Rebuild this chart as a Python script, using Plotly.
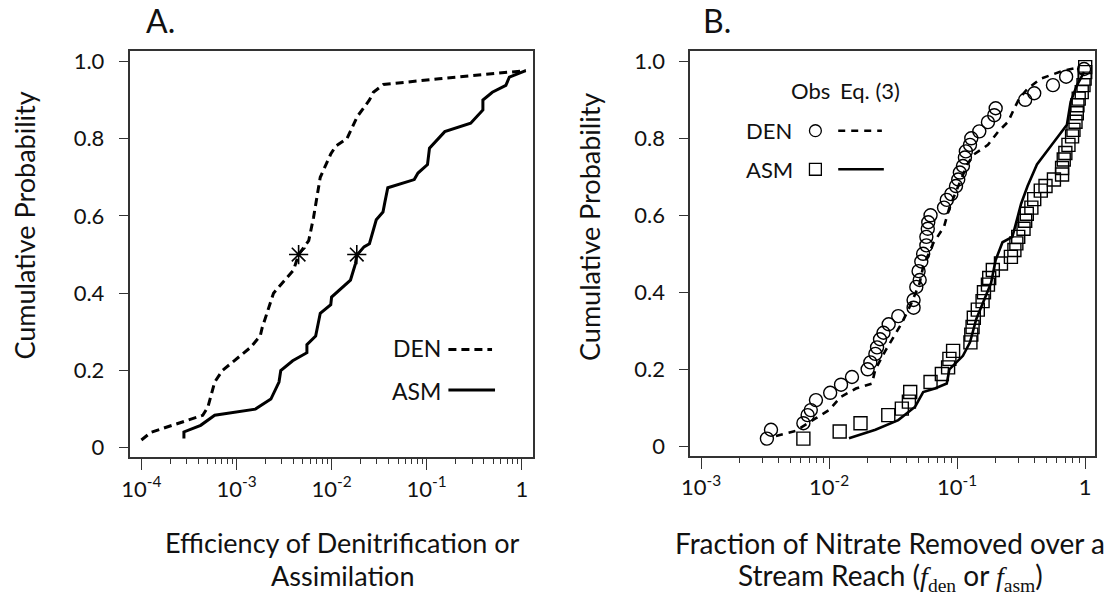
import plotly.graph_objects as go

# ---------------- Panel A data ----------------
a_den_x = [1.0e-4, 1.26e-4, 4.42e-4, 5.0e-4, 5.9e-4, 7.1e-4, 1.41e-3, 1.78e-3, 1.86e-3, 2.45e-3,
           3.98e-3, 4.5e-3, 5.75e-3, 6.46e-3, 7.6e-3, 9.8e-3, 1.1e-2, 1.45e-2, 1.86e-2, 2.5e-2,
           2.75e-2, 3.5e-2, 0.135, 1.1]
a_den_y = [0.02, 0.04, 0.084, 0.105, 0.17, 0.20, 0.26, 0.29, 0.31, 0.40,
           0.46, 0.50, 0.536, 0.596, 0.70, 0.76, 0.78, 0.80, 0.857, 0.90,
           0.92, 0.94, 0.955, 0.976]
a_asm_x = [2.8e-4, 2.8e-4, 4.2e-4, 5.9e-4, 1.58e-3, 2.3e-3, 2.8e-3, 2.92e-3, 3.9e-3, 5.5e-3,
           5.5e-3, 6.8e-3, 7.6e-3, 9.8e-3, 1.0e-2, 1.58e-2, 1.78e-2, 1.84e-2, 2.19e-2, 2.5e-2,
           2.95e-2, 3.47e-2, 3.63e-2, 3.9e-2, 7.4e-2, 8.1e-2, 0.102, 0.107, 0.155, 0.29,
           0.39, 0.39, 0.49, 0.68, 0.74, 1.1]
a_asm_y = [0.024, 0.041, 0.058, 0.084, 0.10, 0.126, 0.17, 0.20, 0.225, 0.246,
           0.267, 0.289, 0.348, 0.37, 0.39, 0.434, 0.476, 0.498, 0.52, 0.528,
           0.59, 0.61, 0.635, 0.673, 0.694, 0.711, 0.733, 0.775, 0.818, 0.84,
           0.874, 0.90, 0.92, 0.938, 0.959, 0.976]
a_median_x = [4.5e-3, 1.84e-2]
a_median_y = [0.5, 0.5]

# ---------------- Panel B data ----------------
b_den_obs_x = [3.27e-3, 3.52e-3, 6.3e-3, 6.8e-3, 7.2e-3, 7.9e-3, 1.02e-2, 1.24e-2, 1.51e-2, 2.0e-2,
               2.1e-2, 2.3e-2, 2.37e-2, 2.5e-2, 2.66e-2, 2.92e-2, 3.47e-2, 4.57e-2, 4.57e-2, 4.8e-2,
               5.1e-2, 5.0e-2, 5.25e-2, 5.43e-2, 5.75e-2, 5.75e-2, 5.9e-2, 5.95e-2, 6.2e-2, 7.9e-2,
               8.3e-2, 9.0e-2, 9.8e-2, 0.102, 0.105, 0.111, 0.115, 0.117, 0.126, 0.129,
               0.149, 0.174, 0.195, 0.20, 0.34, 0.40, 0.56, 0.71, 0.98]
b_den_obs_y = [0.02, 0.043, 0.06, 0.081, 0.094, 0.12, 0.139, 0.16, 0.18, 0.20,
               0.218, 0.24, 0.257, 0.278, 0.295, 0.317, 0.338, 0.36, 0.38, 0.414,
               0.432, 0.455, 0.48, 0.50, 0.522, 0.544, 0.565, 0.582, 0.60, 0.62,
               0.64, 0.655, 0.676, 0.693, 0.711, 0.728, 0.75, 0.766, 0.783, 0.80,
               0.818, 0.842, 0.86, 0.878, 0.90, 0.917, 0.938, 0.96, 0.98]
b_den_eq_x = [3.85e-3, 5.5e-3, 7.9e-3, 1.0e-2, 1.23e-2, 1.62e-2, 2.16e-2, 2.3e-2, 2.75e-2, 3.7e-2,
              4.4e-2, 5.1e-2, 5.43e-2, 6.5e-2, 7.9e-2, 8.7e-2, 0.101, 0.12, 0.135, 0.174,
              0.21, 0.25, 0.28, 0.305, 0.355, 0.45, 0.68, 0.91]
b_den_eq_y = [0.027, 0.04, 0.073, 0.094, 0.128, 0.15, 0.163, 0.20, 0.248, 0.32,
              0.372, 0.424, 0.467, 0.527, 0.57, 0.62, 0.672, 0.732, 0.758, 0.783,
              0.818, 0.843, 0.878, 0.903, 0.929, 0.955, 0.976, 0.985]
b_asm_obs_x = [6.3e-3, 1.21e-2, 1.76e-2, 2.9e-2, 3.7e-2, 4.2e-2, 4.3e-2, 6.2e-2, 7.6e-2, 8.5e-2,
               8.7e-2, 9.3e-2, 0.127, 0.129, 0.132, 0.135, 0.145, 0.158, 0.162, 0.174,
               0.178, 0.19, 0.22, 0.263, 0.28, 0.29, 0.30, 0.33, 0.34, 0.35,
               0.38, 0.40, 0.45, 0.49, 0.57, 0.66, 0.66, 0.68, 0.70, 0.74,
               0.79, 0.81, 0.84, 0.86, 0.87, 0.89, 0.94, 0.97, 0.99, 1.0, 1.0]
b_asm_obs_y = [0.02, 0.0385, 0.06, 0.081, 0.098, 0.116, 0.141, 0.167, 0.188, 0.205,
               0.227, 0.248, 0.27, 0.29, 0.31, 0.334, 0.355, 0.377, 0.40, 0.42,
               0.437, 0.458, 0.475, 0.492, 0.51, 0.527, 0.544, 0.565, 0.586, 0.604,
               0.62, 0.642, 0.664, 0.676, 0.693, 0.706, 0.723, 0.745, 0.762, 0.783,
               0.805, 0.822, 0.843, 0.865, 0.886, 0.903, 0.92, 0.938, 0.955, 0.972, 0.985]
b_asm_eq_x = [1.43e-2, 2.3e-2, 3.47e-2, 4.7e-2, 5.43e-2, 6.7e-2, 8.3e-2, 8.7e-2, 0.111, 0.126,
              0.141, 0.158, 0.184, 0.20, 0.226, 0.27, 0.30, 0.316, 0.355, 0.42,
              0.525, 0.60, 0.72, 0.77, 0.86, 0.98]
b_asm_eq_y = [0.021, 0.043, 0.068, 0.103, 0.141, 0.15, 0.163, 0.20, 0.235, 0.27,
              0.33, 0.372, 0.424, 0.484, 0.53, 0.544, 0.604, 0.63, 0.676, 0.732,
              0.775, 0.80, 0.835, 0.895, 0.937, 0.972]

# ---------------- Axis tick data ----------------
y_tickvals = [0, 0.2, 0.4, 0.6, 0.8, 1.0]
y_ticktext = ["0", "0.2", "0.4", "0.6", "0.8", "1.0"]
a_x_tickvals = [1e-4, 1e-3, 1e-2, 1e-1, 1]
a_x_ticktext = ["10<sup>-4</sup>", "10<sup>-3</sup>", "10<sup>-2</sup>", "10<sup>-1</sup>", "1"]
b_x_tickvals = [1e-3, 1e-2, 1e-1, 1]
b_x_ticktext = ["10<sup>-3</sup>", "10<sup>-2</sup>", "10<sup>-1</sup>", "1"]

W, H = 1109, 601
FONT = "Lato, 'Open Sans', sans-serif"
INK = "#111111"
AX = "#333333"


def px(x):
    return x / W


def py(y):
    return 1 - y / H


def minor_vals(lo_exp, hi_exp):
    out = []
    for e in range(lo_exp, hi_exp):
        for m in range(2, 10):
            out.append(m * 10.0 ** e)
    return out


fig = go.Figure()

# Panel A
fig.add_trace(go.Scatter(x=a_den_x, y=a_den_y, mode="lines", xaxis="x", yaxis="y",
                         line=dict(color="black", width=3, dash="8px,5px"), showlegend=False))
fig.add_trace(go.Scatter(x=a_asm_x, y=a_asm_y, mode="lines", xaxis="x", yaxis="y",
                         line=dict(color="black", width=3), showlegend=False))
fig.add_trace(go.Scatter(x=a_median_x, y=a_median_y, mode="markers", xaxis="x", yaxis="y",
                         marker=dict(symbol="asterisk-open", size=16, color="black",
                                     line=dict(color="black", width=1.6)), showlegend=False))

# Panel B
fig.add_trace(go.Scatter(x=b_den_eq_x, y=b_den_eq_y, mode="lines", xaxis="x2", yaxis="y2",
                         line=dict(color="black", width=2.6, dash="7px,6px"), showlegend=False))
fig.add_trace(go.Scatter(x=b_asm_eq_x, y=b_asm_eq_y, mode="lines", xaxis="x2", yaxis="y2",
                         line=dict(color="black", width=2.6), showlegend=False))
fig.add_trace(go.Scatter(x=b_den_obs_x, y=b_den_obs_y, mode="markers", xaxis="x2", yaxis="y2",
                         marker=dict(symbol="circle-open", size=13, color="black",
                                     line=dict(color="black", width=1.4)), showlegend=False))
fig.add_trace(go.Scatter(x=b_asm_obs_x, y=b_asm_obs_y, mode="markers", xaxis="x2", yaxis="y2",
                         marker=dict(symbol="square-open", size=13, color="black",
                                     line=dict(color="black", width=1.4)), showlegend=False))

tickfont = dict(family=FONT, size=22, color=INK)
common_y = dict(range=[-0.025, 1.028], tickvals=y_tickvals, ticktext=y_ticktext,
                ticks="outside", ticklen=9, tickwidth=1.3, tickcolor=AX,
                showline=True, linecolor=AX, linewidth=1.5, mirror=True,
                showgrid=False, zeroline=False, tickfont=tickfont, ticklabelstandoff=10)

fig.update_layout(
    width=W, height=H, margin=dict(l=0, r=0, t=0, b=0),
    paper_bgcolor="white", plot_bgcolor="white",
    xaxis=dict(type="log", domain=[px(121.5), px(528)], range=[-4.125, 0.115],
               tickvals=a_x_tickvals, ticktext=a_x_ticktext,
               ticks="outside", ticklen=11, tickwidth=1.3, tickcolor=AX,
               minor=dict(tickvals=minor_vals(-4, 0), ticks="outside", ticklen=5,
                          tickwidth=1.3, tickcolor=AX),
               showline=True, linecolor=AX, linewidth=1.5, mirror=True,
               showgrid=False, zeroline=False, tickfont=tickfont, anchor="y"),
    yaxis=dict(domain=[py(459), py(48)], anchor="x", **common_y),
    xaxis2=dict(type="log", domain=[px(686.7), px(1095)], range=[-3.085, 0.0775],
                tickvals=b_x_tickvals, ticktext=b_x_ticktext,
                ticks="outside", ticklen=11, tickwidth=1.3, tickcolor=AX,
                minor=dict(tickvals=minor_vals(-3, 0), ticks="outside", ticklen=5,
                           tickwidth=1.3, tickcolor=AX),
                showline=True, linecolor=AX, linewidth=1.5, mirror=True,
                showgrid=False, zeroline=False, tickfont=tickfont, anchor="y2"),
    yaxis2=dict(domain=[py(457.5), py(48)], anchor="x2", **common_y),
)

ann = []


def text(x, y, s, size, xanchor="center", angle=0):
    ann.append(dict(x=px(x), y=py(y), xref="paper", yref="paper", text=s, showarrow=False,
                    xanchor=xanchor, yanchor="middle", textangle=angle,
                    font=dict(family=FONT, size=size, color=INK)))


# Panel titles
text(153, 18, "A.", 32)
text(714, 18, "B.", 32)
# Y axis titles
text(16, 225, "Cumulative Probability", 27, angle=-90)
text(585, 226, "Cumulative Probability", 27, angle=-90)
# X axis titles
text(336, 545, "Efficiency of Denitrification or", 27)
text(336, 578, "Assimilation", 27)
text(888, 545, "Fraction of Nitrate Removed over a", 28)
serif = "font-family:'Liberation Serif','DejaVu Serif',serif"
text(889, 580,
     "Stream Reach (<span style=\"" + serif + ";font-style:italic\">f</span>"
     "<sub><span style=\"" + serif + "\">den</span></sub> or "
     "<span style=\"" + serif + ";font-style:italic\">f</span>"
     "<sub><span style=\"" + serif + "\">asm</span></sub>)", 28)

# Legend A
text(385, 348, "DEN", 23, xanchor="left")
text(384, 392, "ASM", 23, xanchor="left")
# Legend B
text(786, 88, "Obs", 22, xanchor="left")
text(836, 88, "Eq. (3)", 22, xanchor="left")
text(741, 129, "DEN", 22, xanchor="left")
text(741, 168, "ASM", 22, xanchor="left")

shapes = [
    dict(type="line", xref="paper", yref="paper", x0=px(443), x1=px(487), y0=py(350), y1=py(350),
         line=dict(color="black", width=3, dash="8px,5px")),
    dict(type="line", xref="paper", yref="paper", x0=px(443), x1=px(490), y0=py(391), y1=py(391),
         line=dict(color="black", width=3)),
    dict(type="circle", xref="paper", yref="paper", x0=px(807), x1=px(819), y0=py(135), y1=py(123),
         line=dict(color="black", width=1.3)),
    dict(type="rect", xref="paper", yref="paper", x0=px(807), x1=px(819), y0=py(174), y1=py(162),
         line=dict(color="black", width=1.3)),
    dict(type="line", xref="paper", yref="paper", x0=px(836), x1=px(880), y0=py(129), y1=py(129),
         line=dict(color="black", width=2.6, dash="7px,6px")),
    dict(type="line", xref="paper", yref="paper", x0=px(836), x1=px(882), y0=py(168), y1=py(168),
         line=dict(color="black", width=2.6)),
]

fig.update_layout(annotations=ann, shapes=shapes)
fig.write_html("out.html")
